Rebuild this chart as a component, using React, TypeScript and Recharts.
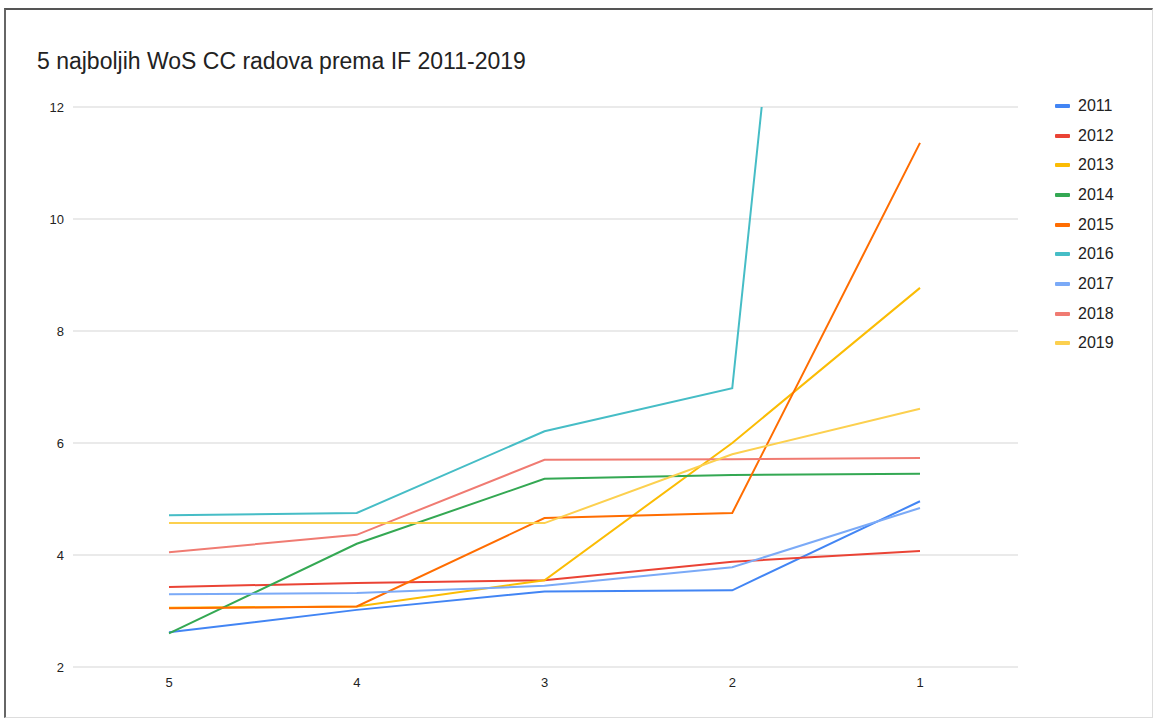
import React from "react";
import {
  LineChart,
  Line,
  XAxis,
  YAxis,
  CartesianGrid,
  Legend,
} from "recharts";

// rank of the paper (5 = fifth best ... 1 = best)
const ranks = ["5", "4", "3", "2", "1"];

const if2011 = [2.62, 3.02, 3.35, 3.37, 4.96];
const if2012 = [3.43, 3.5, 3.55, 3.88, 4.07];
const if2013 = [3.06, 3.08, 3.55, 6.0, 8.77];
const if2014 = [2.6, 4.2, 5.36, 5.43, 5.45];
const if2015 = [3.05, 3.08, 4.66, 4.75, 11.36];
const if2016 = [4.71, 4.75, 6.21, 6.98, 39.0];
const if2017 = [3.3, 3.32, 3.45, 3.78, 4.84];
const if2018 = [4.05, 4.36, 5.7, 5.71, 5.73];
const if2019 = [4.57, 4.57, 4.57, 5.8, 6.61];

const yTicks = [2, 4, 6, 8, 10, 12];

const series = [
  { key: "2011", values: if2011, color: "#4285f4" },
  { key: "2012", values: if2012, color: "#ea4335" },
  { key: "2013", values: if2013, color: "#fbbc04" },
  { key: "2014", values: if2014, color: "#34a853" },
  { key: "2015", values: if2015, color: "#ff6d01" },
  { key: "2016", values: if2016, color: "#46bdc6" },
  { key: "2017", values: if2017, color: "#7baaf7" },
  { key: "2018", values: if2018, color: "#f07b72" },
  { key: "2019", values: if2019, color: "#fcd04f" },
];

const data = ranks.map((r, i) => {
  const row: any = { rank: r };
  series.forEach((s) => {
    row[s.key] = s.values[i];
  });
  return row;
});

const font = "'Liberation Sans', Arial, sans-serif";

function LegendList() {
  return (
    <div style={{ fontFamily: font }}>
      {series.map((s) => (
        <div
          key={s.key}
          style={{ display: "flex", alignItems: "center", height: 29.7 }}
        >
          <span
            style={{
              display: "inline-block",
              width: 15,
              height: 4,
              borderRadius: 1,
              background: s.color,
              marginRight: 8,
            }}
          />
          <span style={{ fontSize: 16, color: "#222" }}>{s.key}</span>
        </div>
      ))}
    </div>
  );
}

export default function App() {
  return (
    <div
      style={{
        position: "absolute",
        left: 0,
        top: 0,
        width: 1156,
        height: 718,
        background: "#fff",
        overflow: "hidden",
      }}
    >
      <div
        style={{
          position: "absolute",
          left: 4,
          top: 8,
          width: 1146,
          height: 707,
          borderTop: "2px solid #555",
          borderLeft: "2px solid #666",
          borderRight: "1px solid #ddd",
          borderBottom: "1px solid #ddd",
        }}
      />
      <div
        style={{
          position: "absolute",
          left: 37,
          top: 48,
          fontFamily: font,
          fontSize: 23,
          color: "#222",
        }}
      >
        5 najboljih WoS CC radova prema IF 2011-2019
      </div>
      <div style={{ position: "absolute", left: 0, top: 0 }}>
        <LineChart
          width={1156}
          height={718}
          data={data}
          margin={{ top: 107, right: 38, bottom: 21, left: 23 }}
        >
          <CartesianGrid vertical={false} stroke="#e3e3e3" strokeWidth={1.5} />
          <XAxis
            dataKey="rank"
            axisLine={false}
            tickLine={false}
            padding={{ left: 96, right: 98 }}
            tick={{ fontSize: 13, fill: "#222", fontFamily: font }}
            tickMargin={5}
          />
          <YAxis
            domain={[2, 12]}
            ticks={yTicks}
            allowDataOverflow
            axisLine={false}
            tickLine={false}
            width={50}
            tick={{ fontSize: 13, fill: "#222", fontFamily: font }}
            tickMargin={3}
          />
          <Legend
            layout="vertical"
            align="right"
            verticalAlign="top"
            content={() => <LegendList />}
            wrapperStyle={{ left: 1055, top: 91, width: 100 }}
          />
          {series.map((s) => (
            <Line
              key={s.key}
              type="linear"
              dataKey={s.key}
              stroke={s.color}
              strokeWidth={2}
              dot={false}
              activeDot={false}
              isAnimationActive={false}
            />
          ))}
        </LineChart>
      </div>
    </div>
  );
}
